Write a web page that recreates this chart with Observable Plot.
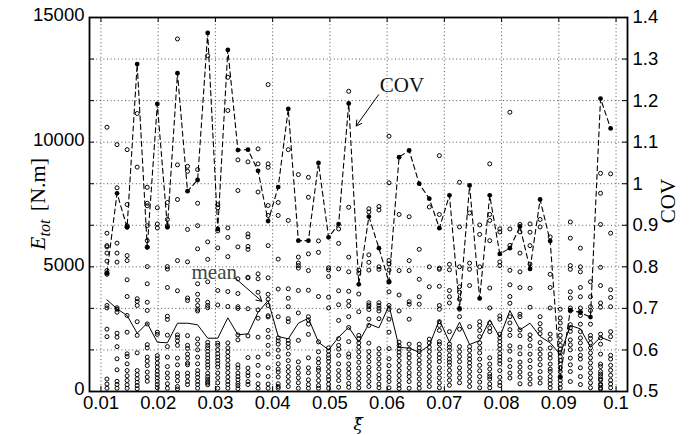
<!DOCTYPE html>
<html>
<head>
<meta charset="utf-8">
<script src="https://cdn.jsdelivr.net/npm/d3@7"></script>
<script src="https://cdn.jsdelivr.net/npm/@observablehq/plot@0.6"></script>
<style>
  html, body { margin: 0; padding: 0; background: #fff; }
  #chart { width: 691px; height: 435px; }
</style>
</head>
<body>
<div id="chart"></div>
<script>
// ---- data ----
const xi = [0.01105,0.01281,0.01457,0.01633,0.01809,0.01985,0.02161,0.02337,0.02513,0.02689,
  0.02865,0.03041,0.03217,0.03393,0.03569,0.03745,0.03921,0.04097,0.04273,0.04449,
  0.04625,0.04801,0.04977,0.05153,0.05329,0.05505,0.05681,0.05857,0.06033,0.06209,
  0.06385,0.06561,0.06737,0.06913,0.07089,0.07265,0.07441,0.07617,0.07793,0.07969,
  0.08145,0.08321,0.08497,0.08673,0.08849,0.09025,0.09201,0.09377,0.09553,0.09729,0.09905];

const meanE = [3677,3316,3048,2338,2739,1977,1953,2739,2739,2675,
  2137,2137,2955,2274,2314,3180,3649,2206,2113,2739,
  2939,1977,1672,2177,2578,1977,2715,2554,3449,1776,
  1736,1576,1845,2875,1977,2779,1885,2045,2875,2177,
  3248,2474,2739,2206,1953,1484,2647,2514,1776,2177,2017];

const cov = [0.785,0.977,0.895,1.288,0.847,1.192,0.895,1.266,0.982,1.009,
  1.363,0.891,1.322,1.081,1.082,1.031,0.910,0.992,1.180,0.863,
  0.863,1.050,0.871,0.903,1.193,0.758,0.921,0.845,0.763,1.064,
  1.080,1.000,0.964,0.893,0.972,0.700,0.996,0.724,0.972,0.831,
  0.845,0.897,0.795,0.962,0.862,0.534,0.696,0.690,0.679,1.205,1.133];

const samples = [
  [10600,6350,5850,5800,5550,5230,4850,4750,4700,3450,3350,2500,2200,500,300,130],
  [9900,8170,5950,5550,5190,3360,3300,3180,2340,2180,1800,1310,870,410,280,130],
  [9700,7500,6650,6600,5450,5250,4480,3810,3050,2380,1510,1400,1110,840,630,440,270,130],
  [11150,9000,3720,3610,3450,2800,2250,1550,840,670,510,370,240,110],
  [8190,7550,7450,6650,6050,5790,5010,4320,3580,3250,2710,1880,1750,1380,1220,1040,780,580,410],
  [7370,6720,6560,2380,2290,1440,1310,1140,980,820,680,550,410,280,150],
  [7580,6900,6650,5010,4910,4170,3020,2890,2260,1800,1380,1000,740,550,310,130],
  [14140,9090,7700,5250,4040,2270,2170,2030,1850,1340,1070,740,600,430,200,100],
  [9030,8830,6500,5200,3750,3650,2240,1850,1730,1500,1340,1140,1070,740,600,410,280],
  [8900,7550,6650,5720,4320,3900,3660,3450,3300,3230,2110,1900,1670,1380,1110,840,700,570,410,280,130],
  [13470,6000,5300,4400,3580,3450,3360,1970,1850,1750,1610,1470,1340,1200,1070,940,730,600,500,400,340,270],
  [7490,7370,6440,5760,4050,3470,1940,1850,1670,1510,1380,1240,1110,980,740,550,350,130],
  [12600,11270,6560,6180,5410,4010,3410,1950,1750,1580,1410,1250,1070,940,760,580,410,280,130],
  [9290,8060,5800,4520,3930,3400,3330,2270,2070,1070,940,740,600,470,330,240,110],
  [9210,6320,6200,5820,5700,4580,4560,3320,2230,1360,940,760,630,400,280],
  [9730,9130,8000,4720,4520,3980,3270,2940,2180,1380,1050,650,310,130],
  [12310,9130,8990,7460,7060,5850,4560,3900,3700,3450,3040,2990,2450,2180,1850,1500,950,600,300,130],
  [7580,7060,5310,4110,3000,2150,2030,1900,1660,1390,1110,900,780,580,310,200,130],
  [9700,6860,4120,3740,3400,2920,2800,2050,1930,1770,1500,1240,1000,800,600,400,200],
  [8700,5390,5150,5050,4950,4050,3150,2050,1190,950,750,550,350,130],
  [8590,7790,5520,4850,4060,3000,2870,2700,2290,1350,950,750,470,280,130],
  [6040,5580,3810,1990,1590,1310,1150,940,840,640,440,240,130],
  [4960,4880,4610,3780,3350,1750,1620,1460,1340,1200,1000,800,600,470,290,130],
  [6520,5940,4920,4040,3480,2850,2120,1850,1700,1450,1110,840,640,440,170],
  [12040,7390,5390,4800,4020,3620,3440,3000,2570,2000,1510,1380,1110,910,730,550,320,170],
  [4870,4740,3910,3200,2250,2120,1950,1780,1590,1390,1170,940,720,520,330,150],
  [7330,7200,5480,5180,4870,3560,3470,3400,3290,2900,2650,1940,1600,1400,1200,970,780,610,400,200],
  [7420,7280,5000,4900,3560,3450,3340,3230,2920,1720,1510,1310,1110,910,670,510,300,150],
  [10240,8370,5250,5120,4870,4420,4000,3450,3300,2900,2380,1720,1310,1040,780,570,400,150],
  [7100,4850,3870,3230,1980,1840,1710,1580,1440,1240,1040,840,640,440,260,120],
  [7010,5250,4850,3600,3500,2900,1900,1700,1500,1350,1150,950,750,600,400,130],
  [5700,4500,3800,3500,1900,1750,1600,1450,1250,1100,900,700,500,300,130],
  [7400,5000,4200,2100,1950,1780,1600,1400,1200,1000,800,600,400,200],
  [9460,7100,4950,4900,4220,3450,3300,2800,2650,2450,2000,1900,1700,1500,1350,1200,950,750,550,350,150],
  [5100,4880,4050,3800,3550,2400,1900,1780,1650,1450,1300,1180,1050,850,650,450,250],
  [8390,6600,5000,4200,3980,3700,3300,3000,2500,1800,1600,1400,1200,950,750,550,350],
  [7160,5150,4900,4250,2600,1800,1650,1450,1300,1150,1000,800,600,400,200],
  [6680,6300,5000,2800,2650,2450,2200,1950,1750,1550,1300,1050,830,600,380,150],
  [9130,7100,6860,6050,4150,3350,2750,2550,2400,1350,1100,900,700,600,500,300,150],
  [6520,6400,5200,5050,3030,2900,2300,2150,2000,1850,1700,1520,1380,1250,1110,840,570,370,240],
  [11200,6520,5860,4860,4280,3810,3540,3000,2750,2480,2250,1830,1620,1270,1000,740,540],
  [6700,6400,5550,4800,4170,3100,3000,2470,2240,1780,1510,1180,980,780,580,310],
  [6720,6390,5850,5110,4140,3380,2270,2090,1830,1500,1240,970,700,500,300],
  [6900,6600,3000,2720,2500,2320,1960,1700,1500,1300,1070,800,540,340],
  [6200,4700,4170,3350,2300,2100,1750,1500,1340,1100,900,800,600,450,300,150],
  [3300,2950,2750,2500,2250,2050,1850,1700,1550,1400,1250,1100,950,800,600,450,300,150],
  [6800,6150,5050,4900,4000,3750,3350,3230,2680,2550,2410,2070,1870,1670,1340,1070,800,400],
  [5750,5000,4800,4170,3800,3350,3200,3050,2700,2400,2150,1950,1700,1450,1300,950,600,280],
  [4400,3800,3400,3250,2700,2250,2130,1950,1750,1550,1350,1150,950,750,550,350,150],
  [8750,7950,6700,4980,4250,3550,3380,2300,2150,1900,1500,1100,1000,800,700,600,500,450,300,250,150,100],
  [8730,6350,4080,3770,3400,2400,2200,1450,1300,1050,850,650,450,300,150]
];

const xTicks = [0.01,0.02,0.03,0.04,0.05,0.06,0.07,0.08,0.09,0.1];
const yLabelTicks = [0,5000,10000,15000];
const covTicks = [0.5,0.6,0.7,0.8,0.9,1.0,1.1,1.2,1.3,1.4];
const covDomain = [0.5, 1.4];
const eDomain = [0, 15000];

// annotations (data coordinates)
const annoText = [
  {label: "COV", x: 0.0626, y: 12300, fill: "#111"},
  {label: "mean", x: 0.0298, y: 4800, fill: "#444"}
];
const annoArrows = [
  {x1: 0.0585, y1: 11900, x2: 0.0546, y2: 10650},
  {x1: 0.0334, y1: 4560, x2: 0.0381, y2: 3620}
];

// ---- helpers ----
const covToY = c => (c - covDomain[0]) / (covDomain[1] - covDomain[0]) * (eDomain[1] - eDomain[0]) + eDomain[0];
const yToCov = y => (y - eDomain[0]) / (eDomain[1] - eDomain[0]) * (covDomain[1] - covDomain[0]) + covDomain[0];

const sampleRows = samples.flatMap((vals, i) => vals.map(E => ({xi: xi[i], E})));
const meanRows = xi.map((x, i) => ({xi: x, E: meanE[i]}));
const covRows = xi.map((x, i) => ({xi: x, c: cov[i]}));
const yGrid = covTicks.map(covToY);

const W = 691, H = 435;
const mL = 89, mR = 64, mT = 17, mB = 44;
const innerW = W - mL - mR, innerH = H - mT - mB;
const tickLen = 5;
const gridStyle = {stroke: "#000", strokeOpacity: 0.75, strokeDasharray: "1,2.6", strokeWidth: 0.9};

const chart = Plot.plot({
  width: W, height: H,
  marginLeft: mL, marginRight: mR, marginTop: mT, marginBottom: mB,
  x: {domain: [0.008, 0.102]},
  y: {domain: eDomain},
  style: {fontFamily: "'Liberation Sans', Arial, Helvetica, sans-serif", fontSize: "18.5px", background: "#fff", color: "#000", overflow: "visible"},
  marks: [
    Plot.gridX(xTicks, gridStyle),
    Plot.gridY(yGrid, gridStyle),
    Plot.dot(sampleRows, {x: "xi", y: "E", r: 2, stroke: "#000", strokeWidth: 1, fill: "none"}),
    Plot.line(meanRows, {x: "xi", y: "E", stroke: "#000", strokeWidth: 1}),
    Plot.line(covRows, {x: "xi", y: d => covToY(d.c), stroke: "#000", strokeWidth: 1.1, strokeDasharray: "5,3.5"}),
    Plot.dot(covRows, {x: "xi", y: d => covToY(d.c), r: 2.4, fill: "#000", stroke: "none"}),
    Plot.arrow(annoArrows, {x1: "x1", y1: "y1", x2: "x2", y2: "y2", stroke: "#000", strokeWidth: 1, headLength: 9}),
    Plot.text(annoText, {x: "x", y: "y", text: "label", fill: "fill", fontFamily: "'Liberation Serif', 'Times New Roman', serif", fontSize: 21}),
    // inward tick marks (MATLAB style)
    Plot.tickY(yGrid, {y: d => d, insetRight: innerW - tickLen, stroke: "#000", strokeWidth: 1}),
    Plot.tickY(yGrid, {y: d => d, insetLeft: innerW - tickLen, stroke: "#000", strokeWidth: 1}),
    Plot.tickX(xTicks, {x: d => d, insetTop: innerH - tickLen, stroke: "#000", strokeWidth: 1}),
    Plot.tickX(xTicks, {x: d => d, insetBottom: innerH - tickLen, stroke: "#000", strokeWidth: 1}),
    Plot.axisX({ticks: xTicks, tickSize: 0, tickPadding: 4, label: null, tickFormat: d => String(+d.toFixed(2))}),
    Plot.axisY({ticks: yLabelTicks, tickSize: 0, tickPadding: 5, label: null, tickFormat: d => String(d), dy: -2}),
    Plot.axisY({anchor: "right", ticks: yGrid, tickSize: 0, tickPadding: 5, label: null,
      tickFormat: d => String(Math.round(yToCov(d) * 10) / 10)}),
    Plot.frame({stroke: "#000", strokeWidth: 1.8})
  ]
});

document.getElementById("chart").appendChild(chart);

// axis titles (serif, MATLAB-like)
const svg = d3.select(chart);
const serif = "'Liberation Serif', 'Times New Roman', serif";

const yl = svg.append("text")
  .attr("transform", `translate(45, 204) rotate(-90)`)
  .attr("text-anchor", "middle")
  .attr("font-family", serif)
  .attr("font-size", 22)
  .attr("fill", "#000");
yl.append("tspan").attr("font-style", "italic").text("E");
yl.append("tspan").attr("font-style", "italic").attr("font-size", 16).attr("dy", 5).text("tot");
yl.append("tspan").attr("dy", -5).attr("dx", 3).text(" [N.m]");

svg.append("text")
  .attr("transform", `translate(675, 201) rotate(-90)`)
  .attr("text-anchor", "middle")
  .attr("font-family", serif)
  .attr("font-size", 21)
  .attr("fill", "#000")
  .text("COV");

// x label: xi-hat (combining circumflex, font with mark positioning)
svg.append("text")
  .attr("x", 358)
  .attr("y", 430)
  .attr("text-anchor", "middle")
  .attr("font-family", "'DejaVu Serif', serif")
  .attr("font-style", "italic")
  .attr("font-size", 17.5)
  .attr("fill", "#000")
  .text("\u03BE\u0302");
</script>
</body>
</html>
